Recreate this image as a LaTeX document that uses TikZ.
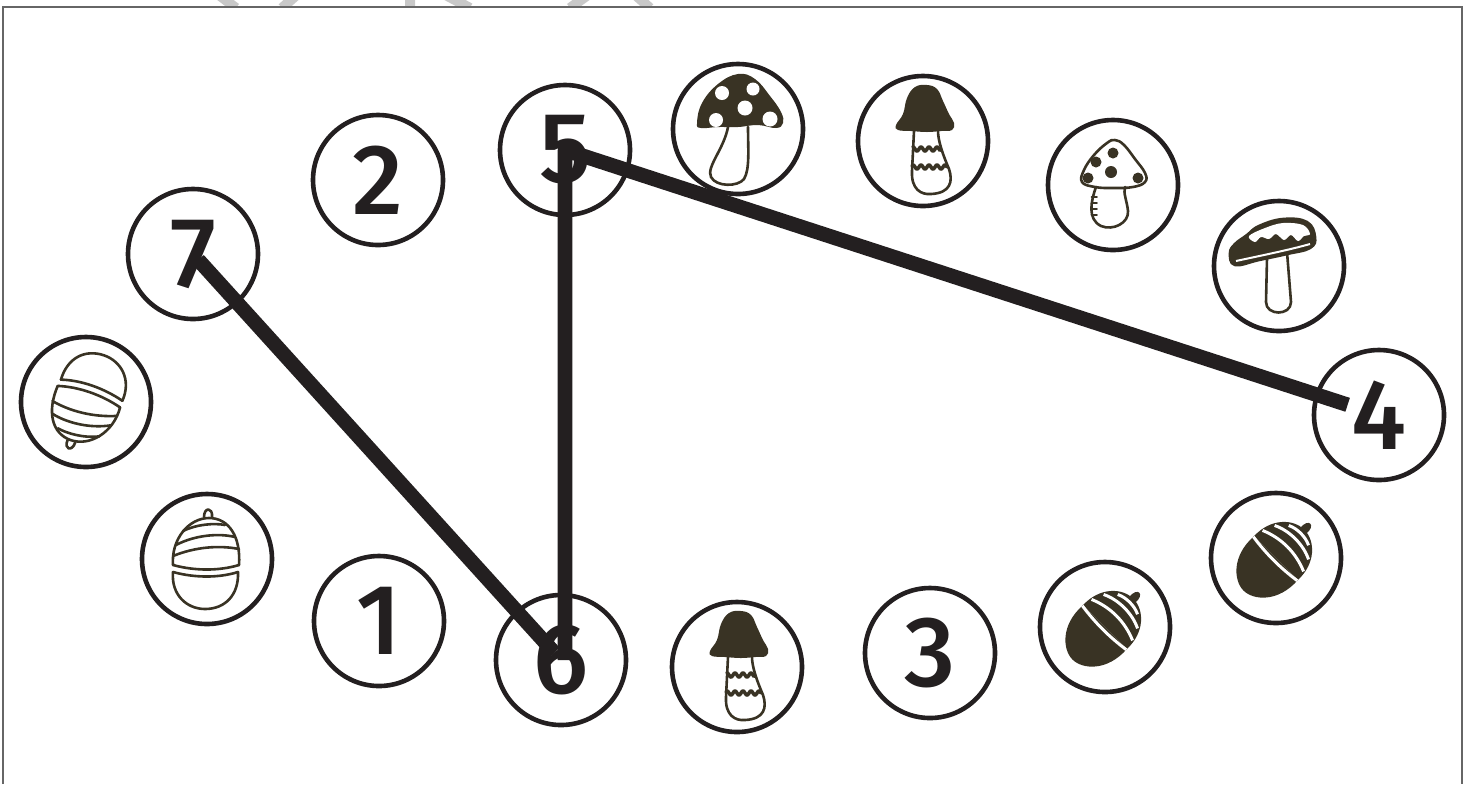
\documentclass[tikz,border=0pt]{standalone}
\usepackage{fontspec}
\setmainfont{PT Sans}
\newfontfamily\digitfont{Fira Sans Medium}

\definecolor{ink}{RGB}{35,31,32}
\definecolor{olive}{RGB}{57,51,36}
\definecolor{framegray}{RGB}{102,102,102}
\definecolor{wmgray}{RGB}{200,200,200}

\tikzset{
  ring/.style={circle,draw=ink,line width=2.3pt,minimum size=65pt,inner sep=0pt,text=ink,font=\digitfont\fontsize{50}{50}\selectfont},
  link/.style={draw=ink,line width=7.3pt},
  icon/.style={draw=olive,line width=1.3pt,line cap=round,line join=round},
}

% pictures inside the rings, drawn round (0,0) in pixel units
\newcommand{\amanita}{%
  \fill[olive] plot[smooth cycle,tension=0.7] coordinates {(-41,-6) (-36,-26) (-20,-45) (0,-55) (17,-50) (32,-33) (43,-17) (45,-6) (38,-1) (20,-4) (0,-2) (-20,-2) (-37,-1)};
  \fill[white] (-16,-36) circle (7) (15,-40) circle (6.5) (7,-21) circle (7.5) (-22,-9) circle (7) (32,-10) circle (7.5);
  \draw[icon] (-10,-2) .. controls (-14,20) and (-32,38) .. (-27,48) .. controls (-22,58) and (0,58) .. (6,50) .. controls (12,40) and (10,20) .. (10,-2);
}
\newcommand{\bolete}{%
  \fill[olive] plot[smooth cycle,tension=0.7] coordinates {(-27,-16) (-20,-27) (-16,-43) (-8,-54) (4,-56) (14,-52) (20,-40) (26,-27) (31,-18) (29,-11) (18,-10) (4,-9) (-12,-10) (-25,-11)};
  \draw[icon] (-9,-10) -- (-11,30) .. controls (-12,48) and (-2,54) .. (8,53) .. controls (28,52) and (30,40) .. (26,28) .. controls (20,14) and (15,0) .. (15,-10);
  \draw[icon,line width=1.8pt,domain=-10:17,samples=40] plot (\x,{8+2*sin(\x*45)});
  \draw[icon,line width=1.8pt,domain=-11:24,samples=50] plot (\x,{26+2*sin(\x*45)});
}
\newcommand{\flycap}{%
  \filldraw[icon,fill=white] plot[smooth cycle,tension=0.7] coordinates {(-31,-3) (-29,-15) (-19,-30) (-6,-42) (2,-45) (11,-40) (22,-26) (32,-12) (32,-3) (20,2) (0,3) (-18,2)};
  \fill[olive] (0,-32) circle (5.5) (-17,-23) circle (5.5) (-2,-13) circle (6) (-25,-7) circle (5.5) (25,-7) circle (5.5);
  \draw[icon] (-17,2) .. controls (-22,16) and (-26,34) .. (-12,41) .. controls (0,46) and (16,38) .. (15,26) .. controls (14,16) and (10,8) .. (12,2);
  \foreach \y in {12,18,24,30} \draw[icon,line width=0.9pt] (-21.5,\y) -- (-16,\y);
}
\newcommand{\flatcap}{%
  \draw[icon] (-12,-8) -- (-13,36) .. controls (-13,50) and (12,50) .. (12,36) -- (8,-14);
  \filldraw[icon,fill=olive] plot[smooth cycle,tension=0.7] coordinates {(-49,-13) (-44,-1) (-20,-6) (8,-12) (31,-18) (36,-29) (28,-44) (4,-47) (-20,-40) (-32,-31) (-44,-22)};
  \fill[white] plot[smooth cycle,tension=0.6] coordinates {(-30,-30) (-14,-38) (4,-43) (24,-41) (31,-32) (25,-30) (19,-25) (12,-31) (5,-26) (-3,-32) (-10,-27) (-18,-29) (-24,-24)};
  \draw[white,line width=1pt] (-43,-5) .. controls (-20,-10) and (10,-16) .. (31,-22);
}
\newcommand{\acornline}{%
  \draw[icon] (-3,-42) .. controls (-3,-52) and (6,-52) .. (5,-42);
  \draw[icon] (-34,6) .. controls (-36,-20) and (-18,-41) .. (2,-41) .. controls (22,-41) and (34,-22) .. (32,6);
  \draw[icon] (-34,6) .. controls (-12,12) and (12,12) .. (32,6);
  \draw[icon] (-34,13) .. controls (-36,36) and (-20,50) .. (-2,50) .. controls (18,50) and (32,36) .. (31,13);
  \draw[icon] (-34,13) .. controls (-12,19) and (12,19) .. (31,13);
  \draw[icon] (-24,-28) .. controls (-10,-35) and (8,-36) .. (18,-34);
  \draw[icon] (-31,-14) .. controls (-12,-24) and (12,-26) .. (28,-22);
  \draw[icon] (-34,-3) .. controls (-12,-12) and (12,-14) .. (32,-10);
}
\newcommand{\acorndark}{%
  \fill[olive] (-31,0) .. controls (-33,30) and (-14,46) .. (0,46) .. controls (14,46) and (33,30) .. (31,0) -- cycle;
  \fill[olive] (-31,0) .. controls (-32,-24) and (-16,-40) .. (0,-40) .. controls (16,-40) and (32,-24) .. (31,0) -- cycle;
  \fill[olive] (-4,-38) .. controls (-6,-52) and (6,-52) .. (4,-38) -- cycle;
  \draw[white,line width=1.5pt] (-31,1) .. controls (-10,4) and (10,4) .. (31,1);
  \draw[white,line width=1.5pt] (-29,-10) .. controls (-10,-18) and (10,-18) .. (29,-10);
  \draw[white,line width=1.5pt] (-24,-22) .. controls (-10,-29) and (10,-29) .. (24,-22);
  \draw[white,line width=1.5pt] (-14,-32) .. controls (-6,-36) and (6,-36) .. (14,-32);
}

\begin{document}
\begin{tikzpicture}[x=0.5pt,y=-0.5pt]
  \useasboundingbox (0,0) rectangle (1472,784);

  % watermark remains above the frame
  \begin{scope}
    \clip (0,0) rectangle (1472,7);
    \draw[wmgray,line width=5pt] (215,-8) -- (236,8) (300,-8) -- (282,8) (410,-8) -- (410,8)
      (440,-8) -- (470,8) (592,-8) -- (570,8) (632,-8) -- (650,8);
  \end{scope}
  \draw[framegray,line width=1pt] (2.5,784) -- (2.5,7) -- (1462,7) -- (1462,784);

  % numbered rings
  \node[ring] (n1) at (379,621) {1};
  \node[ring] (n2) at (378,180) {2};
  \node[ring] (n3) at (930,653) {3};
  \node[ring] (n4) at (1379,415) {4};
  \node[ring] (n5) at (565,150) {5};
  \node[ring] (n6) at (561,660) {6};
  \node[ring] (n7) at (193,254) {7};

  % picture rings
  \node[ring] (m1) at (738,129) {};
  \node[ring] (m2) at (923,141) {};
  \node[ring] (m3) at (1113,185) {};
  \node[ring] (m4) at (1279,266) {};
  \node[ring] (m5) at (737,667) {};
  \node[ring] (a1) at (86,402) {};
  \node[ring] (a2) at (207,559) {};
  \node[ring] (a3) at (1105,627) {};
  \node[ring] (a4) at (1276,558) {};

  \begin{scope}[shift={(m1)}] \amanita \end{scope}
  \begin{scope}[shift={(m2)}] \bolete \end{scope}
  \begin{scope}[shift={(m3)}] \flycap \end{scope}
  \begin{scope}[shift={(m4)}] \flatcap \end{scope}
  \begin{scope}[shift={(m5)}] \bolete \end{scope}
  \begin{scope}[shift={(a1)},rotate=161] \acornline \end{scope}
  \begin{scope}[shift={(a2)}] \acornline \end{scope}
  \begin{scope}[shift={(a3)},rotate=-45] \acorndark \end{scope}
  \begin{scope}[shift={(a4)},rotate=-45] \acorndark \end{scope}

  % the joined dots
  \draw[link,shorten <=4pt,shorten >=5pt] (n7.center) -- (n6.center);
  \draw[link,line join=round,shorten <=16.5pt] (n4.center) -- (n5.center) -- (n5.center |- n6.center);
\end{tikzpicture}
\end{document}
